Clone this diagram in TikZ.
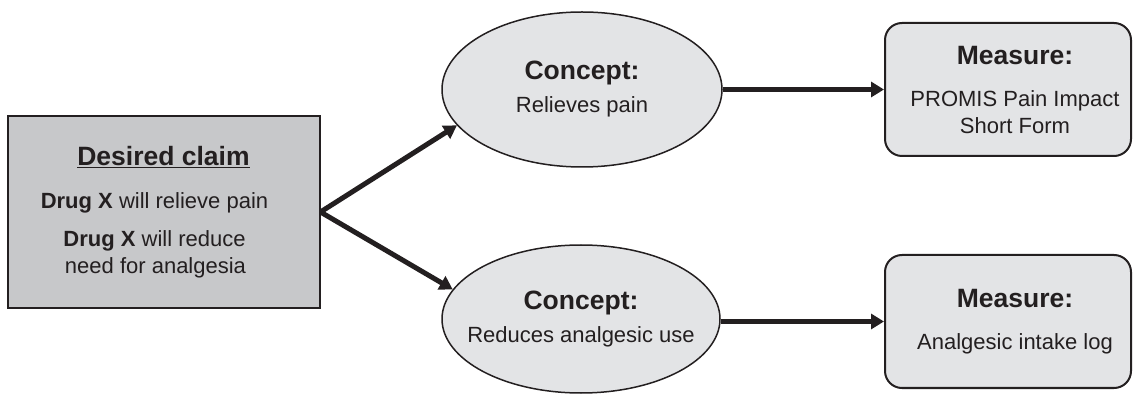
\documentclass[tikz,border=0pt]{standalone}
\usepackage{fontspec}
\setmainfont{Liberation Sans}
\usepackage{tikz}
\usetikzlibrary{arrows.meta,shapes.geometric}
\definecolor{claimgray}{HTML}{C7C8CA}
\definecolor{conceptgray}{HTML}{E3E4E6}
\definecolor{inkdark}{HTML}{231F20}
\newcommand{\boxhead}[1]{{\fontsize{26.5}{30}\selectfont\bfseries #1}}
\newcommand{\nudge}[1]{\hspace*{#1}}
\begin{document}
\begin{tikzpicture}[x=1pt, y=-1pt,
    every node/.style={text=inkdark, align=center, font=\fontsize{22}{27}\selectfont},
    claimbox/.style={draw=inkdark, line width=2pt, fill=claimgray, inner sep=0pt,
        minimum width=312pt, minimum height=192pt},
    concept/.style={ellipse, draw=inkdark, line width=1.5pt, fill=conceptgray,
        inner xsep=-20pt, inner ysep=0pt},
    measure/.style={draw=inkdark, line width=2pt, fill=conceptgray, rounded corners=17pt,
        inner sep=0pt, minimum width=246pt, minimum height=133pt},
    flow/.style={draw=inkdark, line width=5pt, -{Triangle[length=13pt, width=15pt]}}]
            \useasboundingbox (0,0) rectangle (1133,395);
            \node[claimbox] (claim) at (163.5, 212) {\boxhead{\underline{Desired claim}}\\[16pt]
                \nudge{-18pt}\textbf{Drug X} will relieve pain\\[11pt]
                \nudge{-18pt}\textbf{Drug X} will reduce\\ \nudge{-16pt}need for analgesia};
            \node[concept, minimum width=280pt, minimum height=155pt] (relief) at (582, 89.5)
                {\boxhead{Concept:}\\[6pt] Relieves pain};
            \node[concept, minimum width=278pt, minimum height=148pt] (reduce) at (581, 319)
                {\boxhead{Concept:}\\[6pt] Reduces analgesic use};
            \node[measure] (promis) at (1008, 89.5) {\nudge{14pt}\boxhead{Measure:}\\[15pt]
                \nudge{14pt}PROMIS Pain Impact\\ \nudge{14pt}Short Form};
            \node[measure] (intake) at (1008, 321.5) {\nudge{14pt}\boxhead{Measure:}\\[15pt]
                \nudge{14pt}Analgesic intake log};
            \coordinate (fork) at (claim.east);
            \draw[flow] (fork) -- (relief.196);
            \draw[flow] (fork) -- (reduce.167);
            \draw[flow] (promis.west -| relief.east) -- (promis.west);
            \draw[flow] (intake.west -| reduce.east) -- (intake.west);
        \end{tikzpicture}
\end{document}
